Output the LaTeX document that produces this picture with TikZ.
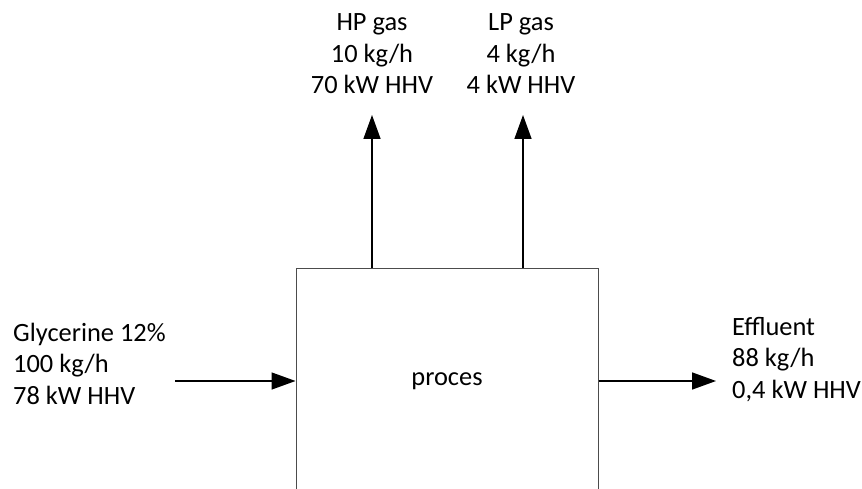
\documentclass[tikz,border=0pt]{standalone}
\usepackage{fontspec}
\setmainfont{Carlito}
\usetikzlibrary{arrows.meta}
\begin{document}
\begin{tikzpicture}[x=1pt,y=-1pt,
  lbl/.style={inner sep=0pt,font=\fontsize{26.4}{31.5}\selectfont},
  flow/.style={line width=1.5pt,-{Triangle[length=24pt,width=17pt]}},
  procbox/.style={draw=black!70,line width=1pt,minimum width=302pt,minimum height=226pt,inner sep=0pt,font=\fontsize{26.4}{31.5}\selectfont}]
\clip (0,0) rectangle (862,489);
\fill[white] (0,0) rectangle (862,489);
\node[procbox] (box) at (447,381) {proces};
\node[lbl,align=center,anchor=base] (hp) at (372,94) {HP gas\\10 kg/h\\70 kW HHV};
\node[lbl,align=center,anchor=base] (lp) at (521,94) {LP gas\\4 kg/h\\4 kW HHV};
\node[lbl,align=left,anchor=base west] (gly) at (13,404) {Glycerine 12\%\\100 kg/h\\78 kW HHV};
\node[lbl,align=left,anchor=base west] (eff) at (732,398) {Effluent\\88 kg/h\\0,4 kW HHV};
\coordinate (hptip) at (372,115);
\coordinate (lptip) at (523,115);
\coordinate (glystart) at (175,381);
\coordinate (efftip) at (716,381);
\draw[flow] (box.north -| hptip) -- (hptip);
\draw[flow] (box.north -| lptip) -- (lptip);
\draw[flow] (glystart) -- (box.west |- glystart);
\draw[flow] (box.east |- efftip) -- (efftip);
\end{tikzpicture}
\end{document}
